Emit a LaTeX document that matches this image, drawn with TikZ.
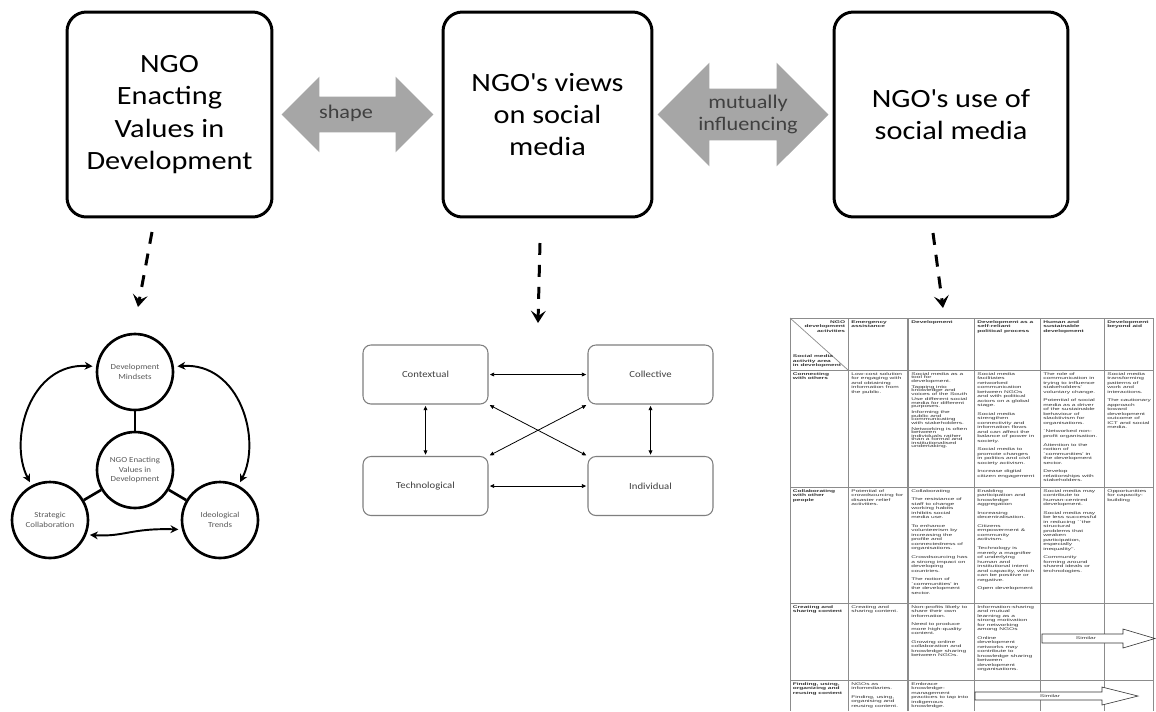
\documentclass[tikz,border=0pt]{standalone}
\usepackage{fontspec}
\setmainfont{Carlito}[FakeStretch=1.15]
\newfontfamily\tabfont[FakeStretch=1.7]{Liberation Sans}
\usepackage{tikz}
\usetikzlibrary{positioning}
\usetikzlibrary{calc}
\usetikzlibrary{arrows.meta}
\usetikzlibrary{shapes.arrows}
\definecolor{arrowgray}{HTML}{A6A6A6}
\definecolor{labelgray}{HTML}{404040}
\definecolor{circtext}{HTML}{595959}
\definecolor{boxline}{HTML}{7F7F7F}
\definecolor{gridgray}{HTML}{8C8C8C}
\definecolor{tabtext}{HTML}{333333}
\newcommand{\tabsize}{\fontsize{2.2}{2.55}\selectfont\lineskiplimit=-5pt\relax}
\newcommand{\tabtight}{\fontsize{2.2}{2.0}\selectfont\lineskiplimit=-5pt\relax}

\begin{document}
\begin{tikzpicture}[x=0.02cm, y=-0.02cm, line width=1pt,
    bigbox/.style={draw, line width=1.7pt, rounded corners=11pt, inner sep=0pt,
        minimum height=4.1cm, align=center, font=\fontsize{15}{18.3}\selectfont},
    graydbl/.style={double arrow, fill=arrowgray, inner xsep=0pt, double arrow tip angle=90},
    arrowlbl/.style={align=center, text=labelgray, font=\fontsize{11}{12.8}\selectfont},
    dasharrow/.style={line width=1.7pt, dash pattern=on 6.8pt off 5.7pt,
        -{Stealth[length=7pt,width=8.5pt,inset=3pt]}},
    circ/.style={draw, circle, line width=1.5pt, minimum size=1.52cm, inner sep=0pt,
        align=center, text=circtext, font=\fontsize{4.4}{5.6}\selectfont},
    sidearrow/.style={line width=1.1pt, {Stealth[length=4.5pt,width=4.5pt]}-{Stealth[length=4.5pt,width=4.5pt]},
        shorten <=2pt, shorten >=2pt},
    mbox/.style={draw=boxline, line width=0.6pt, rounded corners=4.5pt, minimum width=2.5cm,
        minimum height=1.18cm, text=labelgray, font=\fontsize{5.3}{6.4}\selectfont},
    linkarrow/.style={line width=0.45pt, {Triangle[length=2.4pt,width=2.2pt]}-{Triangle[length=2.4pt,width=2.2pt]},
        shorten <=0.8pt, shorten >=0.8pt},
    tabline/.style={draw=gridgray, line width=0.4pt},
    tabcell/.style={anchor=north west, inner sep=0pt, align=left, text=tabtext, font=\tabfont\tabsize},
    tabhead/.style={tabcell, font=\tabfont\tabsize\bfseries},
    tabtightcell/.style={tabcell, font=\tabfont\tabtight},
    simarrow/.style={draw=tabtext, fill=white, line width=0.35pt}
]
    \fill[white] (0,0) rectangle (1156,711);
    \useasboundingbox (0,0) rectangle (1156,711);

    % top row
    \node[bigbox, minimum width=4.1cm] (ngo) at (169.5,114.5)
        {NGO\\Enacting\\Values in\\Development};
    \node[bigbox, minimum width=4.18cm] (views) at (547.5,114.5)
        {NGO\textquotesingle s views\\on social\\media};
    \node[bigbox, minimum width=4.68cm] (use) at (951,114.5)
        {NGO\textquotesingle s use of\\social media};

    \node[graydbl, minimum height=3.04cm, inner ysep=0.34cm, double arrow head extend=0.4cm]
        (shapearr) at ($(ngo.east)!0.5!(views.west)$) {};
    \node[arrowlbl] (shapelbl) at (346,113) {shape};
    \node[graydbl, minimum height=3.42cm, inner ysep=0.5cm, double arrow head extend=0.52cm]
        (mutualarr) at ($(views.east)!0.5!(use.west)$) {};
    \node[arrowlbl] (mutuallbl) at (748,114.5) {mutually\\influencing};

    \coordinate (ngofoot) at (152,232);
    \coordinate (circtop) at (138,307);
    \coordinate (viewsfoot) at (540,243);
    \coordinate (mboxtop) at (538,323);
    \coordinate (usefoot) at (933,233);
    \coordinate (tabtop) at (943,308);

    \draw[dasharrow] (ngofoot) -- (circtop);
    \draw[dasharrow] (viewsfoot) -- (mboxtop);
    \draw[dasharrow] (usefoot) -- (tabtop);

    % circles
    \node[circ] (mind) at (135,372) {Development\\Mindsets};
    \node[circ] (enact) at (135,470) {NGO Enacting\\Values in\\Development};
    \node[circ] (strat) at (50,520) {Strategic\\Collaboration};
    \node[circ] (ideo) at (220,520) {Ideological\\Trends};

    \draw[line width=1.5pt] (mind) -- (enact);
    \draw[line width=1.5pt] (enact) -- (strat);
    \draw[line width=1.5pt] (enact) -- (ideo);

    \draw[sidearrow] (mind.172) .. controls (30,362) and (8,440) .. (strat.118);
    \draw[sidearrow] (mind.8) .. controls (240,362) and (262,440) .. (ideo.62);
    \draw[sidearrow] (strat.-22) .. controls (125,537) and (130,528) .. (ideo.194);

    % four boxes
    \node[mbox] (ctx) at (425.5,374.5) {Contextual};
    \node[mbox] (coll) at (650.5,374.5) {Collective};
    \node[mbox] (tech) at (425.5,486) {Technological};
    \node[mbox] (indiv) at (650.5,486) {Individual};

    \draw[linkarrow] (ctx) -- (coll);
    \draw[linkarrow] (tech) -- (indiv);
    \draw[linkarrow] (ctx) -- (tech);
    \draw[linkarrow] (coll) -- (indiv);
    \draw[linkarrow] (ctx.south east) -- (indiv.north west);
    \draw[linkarrow] (tech.north east) -- (coll.south west);

    % table
    \foreach \x in {790,848,974,1040,1104,1153}
        \draw[tabline] (\x,318) -- (\x,711);
    \draw[tabline, line width=0.9pt] (908,318) -- (908,711);
    \foreach \y in {318,370,487,603,680}
        \draw[tabline] (790,\y) -- (1153,\y);
    \draw[tabline] (790,318) -- (848,370);

    \node[tabhead, anchor=north east, align=right] (hngo) at (846,319.5)
        {NGO\\development\\activities};
    \node[tabhead, anchor=south west] (hsm) at (792,368.5)
        {Social media\\activity area\\in development};
    \node[tabhead] (h1) at (850.5,319.5) {Emergency\\assistance};
    \node[tabhead] (h2) at (910.5,319.5) {Development};
    \node[tabhead] (h3) at (976.5,319.5) {Development as a\\self-reliant\\political process};
    \node[tabhead] (h4) at (1042.5,319.5) {Human and\\sustainable\\development};
    \node[tabhead] (h5) at (1106.5,319.5) {Development\\beyond aid};

    \node[tabhead] (r1) at (792,371.5) {Connecting\\with others};
    \node[tabcell] (c11) at (850.5,371.5)
        {Low-cost solution\\for engaging with\\and obtaining\\information from\\the public.};
    \node[tabtightcell] (c12) at (910.5,371.5)
        {Social media as a\\tool for\\development.\\[1.3pt]
         Tapping into\\knowledge and\\voices of the South\\[1.3pt]
         Use different social\\media for different\\purposes.\\[1.3pt]
         Informing the\\public and\\communicating\\with stakeholders.\\[1.3pt]
         Networking is often\\between\\individuals rather\\than a formal and\\institutionalised\\undertaking.};
    \node[tabcell] (c13) at (976.5,371.5)
        {Social media\\facilitates\\networked\\communication\\between NGOs\\and with political\\actors on a global\\stage.\\[2.4pt]
         Social media\\strengthen\\connectivity and\\information flows\\and can affect the\\balance of power in\\society.\\[2.4pt]
         Social media to\\promote changes\\in politics and civil\\society activism.\\[2.4pt]
         Increase digital\\citizen engagement};
    \node[tabcell] (c14) at (1042.5,371.5)
        {The role of\\communication in\\trying to influence\\stakeholders'\\voluntary change.\\[2.4pt]
         Potential of social\\media as a driver\\of the sustainable\\behaviour of\\slacktivism for\\organisations.\\[2.4pt]
         `Networked non-\\profit organisation.\\[2.4pt]
         Attention to the\\notion of\\`communities' in\\the development\\sector.\\[2.4pt]
         Develop\\relationships with\\stakeholders.};
    \node[tabcell] (c15) at (1106.5,371.5)
        {Social media\\transforming\\patterns of\\work and\\interactions.\\[2.4pt]
         The cautionary\\approach\\toward\\development\\outcome of\\ICT and social\\media.};

    \node[tabhead] (r2) at (792,488.5) {Collaborating\\with other\\people};
    \node[tabcell] (c21) at (850.5,488.5)
        {Potential of\\crowdsourcing for\\disaster relief\\activities.};
    \node[tabcell] (c22) at (910.5,488.5)
        {Collaborating\\[2.4pt]
         The resistance of\\staff to change\\working habits\\inhibits social\\media use.\\[2.4pt]
         To enhance\\volunteerism by\\increasing the\\profile and\\connectedness of\\organisations.\\[2.4pt]
         Crowdsourcing has\\a strong impact on\\developing\\countries.\\[2.4pt]
         The notion of\\`communities' in\\the development\\sector.};
    \node[tabcell] (c23) at (976.5,488.5)
        {Enabling\\participation and\\knowledge\\aggregation\\[2.4pt]
         Increasing\\decentralisation.\\[2.4pt]
         Citizens\\empowerment \&\\community\\activism.\\[2.4pt]
         Technology is\\merely a magnifier\\of underlying\\human and\\institutional intent\\and capacity, which\\can be positive or\\negative.\\[2.4pt]
         Open development};
    \node[tabcell] (c24) at (1042.5,488.5)
        {Social media may\\contribute to\\human-centred\\development.\\[2.4pt]
         Social media may\\be less successful\\in reducing ``the\\structural\\problems that\\weaken\\participation,\\especially\\inequality''.\\[2.4pt]
         Community\\forming around\\shared ideals or\\technologies.};
    \node[tabcell] (c25) at (1106.5,488.5)
        {Opportunities\\for capacity-\\building};

    \node[tabhead] (r3) at (792,604.5) {Creating and\\sharing content};
    \node[tabcell] (c31) at (850.5,604.5) {Creating and\\sharing content.};
    \node[tabcell] (c32) at (910.5,604.5)
        {Non-profits likely to\\share their own\\information.\\[2.4pt]
         Need to produce\\more high-quality\\content.\\[2.4pt]
         Growing online\\collaboration and\\knowledge sharing\\between NGOs.};
    \node[tabcell] (c33) at (976.5,604.5)
        {Information-sharing\\and mutual\\learning as a\\strong motivation\\for networking\\among NGOs\\[2.4pt]
         Online\\development\\networks may\\contribute to\\knowledge sharing\\between\\development\\organisations.};

    \node[tabhead] (r4) at (792,681.5) {Finding, using,\\organizing and\\reusing content};
    \node[tabcell] (c41) at (850.5,681.5)
        {NGOs as\\infomediaries.\\[2.4pt]
         Finding, using,\\organising and\\reusing content.};
    \node[tabcell] (c42) at (910.5,681.5)
        {Embrace\\knowledge-\\management\\practices to tap into\\indigenous\\knowledge.};

    \draw[simarrow] (1042,634) -- (1123,634) -- (1123,629) -- (1155,638.5)
        -- (1123,648) -- (1123,643) -- (1042,643) -- cycle;
    \node[tabcell, anchor=center] (sim3) at (1086,638.5) {Similar};
    \draw[simarrow] (975,692) -- (1102,692) -- (1102,687) -- (1138,696)
        -- (1102,705) -- (1102,700) -- (975,700) -- cycle;
    \node[tabcell, anchor=center] (sim4) at (1050,696) {Similar};
\end{tikzpicture}
\end{document}
